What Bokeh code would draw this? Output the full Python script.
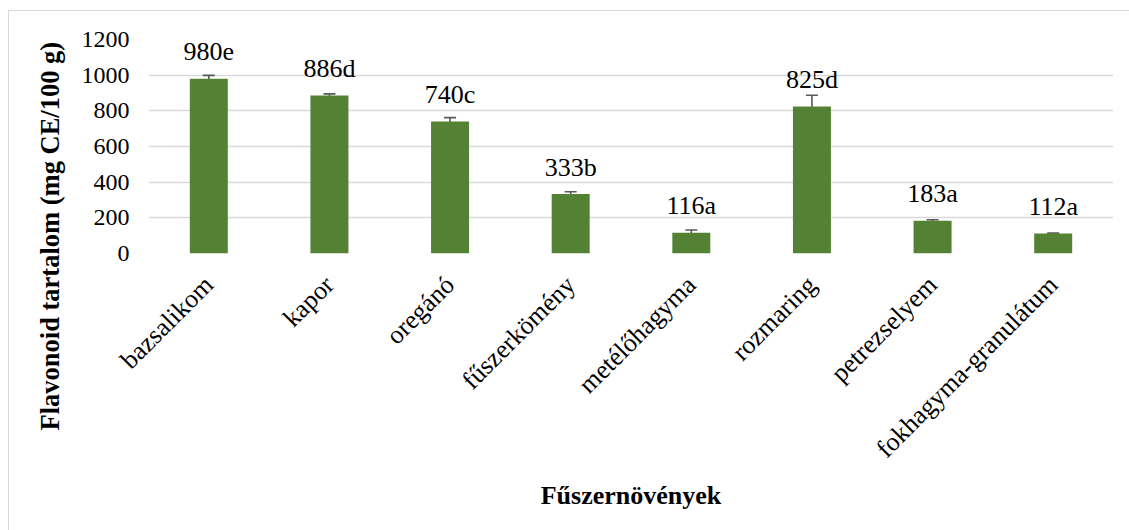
import math
from bokeh.plotting import figure
from bokeh.models import (ColumnDataSource, Range1d, FixedTicker, Whisker, TeeHead, Title)
from bokeh.core.properties import value
from bokeh.embed import file_html
from bokeh.resources import INLINE

# ---- data ----
categories = ["bazsalikom", "kapor", "oregánó", "fűszerkömény", "metélőhagyma",
              "rozmaring", "petrezselyem", "fokhagyma-granulátum"]
values = [980, 886, 740, 333, 116, 825, 183, 112]
errors = [19, 9, 22, 13, 16, 62, 6, 3]
letters = ["e", "d", "c", "b", "a", "d", "a", "a"]
y_ticks = [0, 200, 400, 600, 800, 1000, 1200]

FONT = "'Liberation Serif', 'Times New Roman', serif"
GREEN = "#548235"

xs = [i + 0.5 for i in range(len(categories))]
src = ColumnDataSource(dict(
    x=xs, top=values,
    upper=[v + e for v, e in zip(values, errors)],
    lower=[v - e for v, e in zip(values, errors)],
    lab=[f"{v}{l}" for v, l in zip(values, letters)],
))

p = figure(width=1129, height=530, output_backend="svg", toolbar_location=None,
           x_range=Range1d(0, len(categories)), y_range=Range1d(0, 1200),
           min_border_left=148, min_border_right=16, min_border_top=39,
           min_border_bottom=277)
p.border_fill_color = None
p.background_fill_color = None
p.outline_line_color = None
p.styles = {"box-shadow": "inset 8px 10px 0 0 #ffffff, inset 9px 11px 0 0 #d9d9d9"}

p.vbar(x="x", top="top", width=0.315, source=src, fill_color=GREEN, line_color=None)

w = Whisker(base="x", upper="upper", lower="lower", source=src,
            line_color="#595959", line_width=1.6,
            upper_head=TeeHead(size=12, line_color="#595959", line_width=1.6),
            lower_head=TeeHead(size=12, line_color="#595959", line_width=1.6))
p.add_layout(w)

p.text(x="x", y="top", text="lab", source=src, text_font=value(FONT),
       text_font_size="26px", text_align="center", text_baseline="alphabetic",
       y_offset=-27, text_color="#000000")

# grid
p.xgrid.grid_line_color = None
p.ygrid.grid_line_color = "#d9d9d9"
p.ygrid.grid_line_width = 1.5
p.ygrid.ticker = FixedTicker(ticks=y_ticks)

# y axis
p.yaxis.ticker = FixedTicker(ticks=y_ticks)
p.yaxis.axis_line_color = None
p.yaxis.major_tick_line_color = None
p.yaxis.minor_tick_line_color = None
p.yaxis.major_label_text_font = FONT
p.yaxis.major_label_text_font_size = "24px"
p.yaxis.major_label_text_color = "#000000"
p.yaxis.major_label_standoff = 13

# x axis
p.xaxis.ticker = FixedTicker(ticks=xs)
p.xaxis.major_label_overrides = {x: c for x, c in zip(xs, categories)}
p.xaxis.major_label_orientation = math.pi / 4
p.xaxis.axis_line_color = None
p.xaxis.major_tick_line_color = None
p.xaxis.minor_tick_line_color = None
p.xaxis.major_label_text_font = FONT
p.xaxis.major_label_text_font_size = "26px"
p.xaxis.major_label_text_color = "#000000"
p.xaxis.major_label_standoff = 21
p.xaxis.axis_label = "Fűszernövények"
p.xaxis.axis_label_text_font = FONT
p.xaxis.axis_label_text_font_size = "26px"
p.xaxis.axis_label_text_font_style = "bold"
p.xaxis.axis_label_text_color = "#000000"
p.xaxis.axis_label_standoff = 4

# y title, positioned relative to the whole chart area
p.add_layout(Title(text="Flavonoid tartalom (mg CE/100 g)", align="left", offset=-177,
                   text_font=FONT, text_font_size="26.5px", text_font_style="bold",
                   text_color="#000000", standoff=27), "left")

open("out.html", "w").write(file_html(p, INLINE))
